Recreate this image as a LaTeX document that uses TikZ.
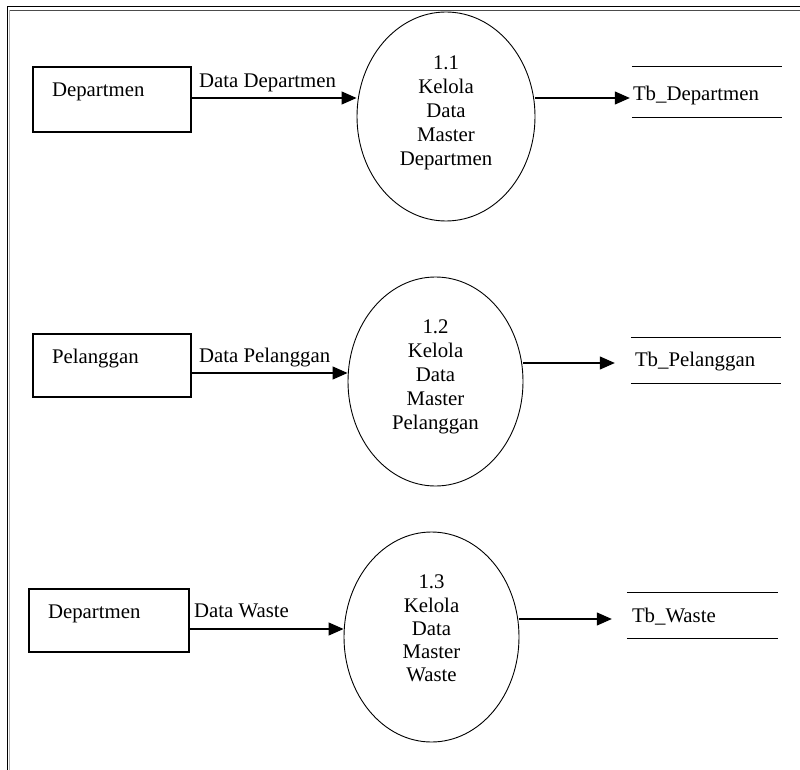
\documentclass[tikz,border=0pt]{standalone}
\usepackage{fontspec}
\setmainfont{Liberation Serif}
\usetikzlibrary{shapes.geometric,arrows.meta}
\begin{document}
\begin{tikzpicture}[x=1pt,y=-1pt,
  font=\fontsize{20.8}{24}\selectfont,
  entity/.style={draw, line width=1.1pt, inner sep=0pt},
  proc/.style={draw, ellipse, line width=0.9pt, inner sep=0pt},
  store/.style={draw=none, inner sep=0pt, minimum width=150pt},
  storeline/.style={line width=1.1pt},
  flow/.style={line width=1.2pt, -{Triangle[length=15pt,width=13pt]}},
  lbl/.style={inner sep=0pt, anchor=base west},
  frameouter/.style={line width=1.6pt},
  frameinner/.style={line width=1.4pt, black!70}]
\useasboundingbox (0,0) rectangle (800,770);

% frame
\draw[frameouter] (7.5,770) -- (7.5,6.5) -- (800,6.5);
\draw[frameinner] (10,10.5) -- (800,10.5);
\draw[line width=1pt, black!30] (9.5,10) -- (9.5,770);

% external entities
\node[entity, minimum width=158pt, minimum height=65pt] (e1) at (112,99.5)
  {\makebox[158pt][l]{\hspace{19pt}\raisebox{2.5pt}[0pt][0pt]{Departmen}}};
\node[entity, minimum width=158pt, minimum height=63pt] (e2) at (112,365.5)
  {\makebox[158pt][l]{\hspace{19pt}\raisebox{2.5pt}[0pt][0pt]{Pelanggan}}};
\node[entity, minimum width=160pt, minimum height=63pt] (e3) at (109,620.5)
  {\makebox[160pt][l]{\hspace{19pt}\raisebox{2.5pt}[0pt][0pt]{Departmen}}};

% processes
\node[proc, minimum width=178pt, minimum height=209pt] (p1) at (446,116.5)
  {\raisebox{3.3pt}[\height][\depth]{\begin{tabular}{@{}c@{}}1.1\\Kelola\\Data\\Master\\Departmen\end{tabular}}};
\node[proc, minimum width=175pt, minimum height=209pt] (p2) at (435.5,381.5)
  {\raisebox{5.3pt}[\height][\depth]{\begin{tabular}{@{}c@{}}1.2\\Kelola\\Data\\Master\\Pelanggan\end{tabular}}};
\node[proc, minimum width=175pt, minimum height=210pt] (p3) at (431.5,637)
  {\fontsize{20.8}{23.25}\selectfont\raisebox{6.2pt}[\height][\depth]{\begin{tabular}{@{}c@{}}1.3\\Kelola\\Data\\Master\\Waste\end{tabular}}};

% data stores
\node[store, minimum height=50pt] (s1) at (707,92)
  {\makebox[150pt][l]{\hspace{1pt}\raisebox{-9pt}[0pt][0pt]{Tb\_Departmen}}};
\node[store, minimum height=45pt] (s2) at (706,360.5)
  {\makebox[150pt][l]{\hspace{4pt}\raisebox{-5.5pt}[0pt][0pt]{Tb\_Pelanggan}}};
\node[store, minimum width=151pt, minimum height=45pt] (s3) at (702.5,615.5)
  {\makebox[151pt][l]{\hspace{5pt}\raisebox{-6.5pt}[0pt][0pt]{Tb\_Waste}}};
\foreach \s in {s1,s2,s3}{
  \draw[storeline] (\s.north west) -- (\s.north east);
  \draw[storeline] (\s.south west) -- (\s.south east);
}

% flow heights
\coordinate (a1) at (0,98);
\coordinate (a2) at (0,373);
\coordinate (a3) at (0,629);
\coordinate (o1) at (0,98);
\coordinate (o2) at (0,363);
\coordinate (o3) at (0,619);

% flows
\draw[flow] (e1.east |- a1) -- node[lbl, at start, xshift=7pt, yshift=10pt]{Data Departmen} (p1.west |- a1);
\draw[flow] (e2.east |- a2) -- node[lbl, at start, xshift=7pt, yshift=11pt]{Data Pelanggan} (p2.west |- a2);
\draw[flow] (e3.east |- a3) -- node[lbl, at start, xshift=4pt, yshift=12pt]{Data Waste} (p3.west |- a3);

\draw[flow, shorten >=2pt] (p1.east |- o1) -- (s1.west |- o1);
\draw[flow, shorten >=16pt] (p2.east |- o2) -- (s2.west |- o2);
\draw[flow, shorten >=15pt] (p3.east |- o3) -- (s3.west |- o3);
\end{tikzpicture}
\end{document}
